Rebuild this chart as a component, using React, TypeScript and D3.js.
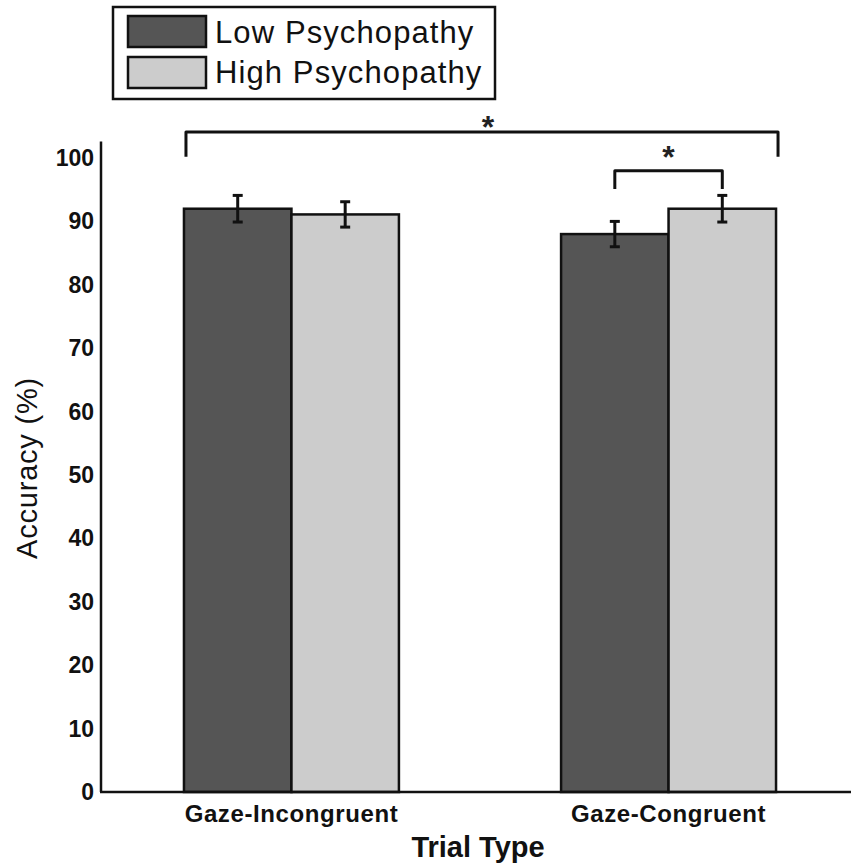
import { useMemo } from "react";
import * as d3 from "d3";

const CATEGORIES = ["Gaze-Incongruent", "Gaze-Congruent"];
const SERIES = ["Low Psychopathy", "High Psychopathy"];
const LOW_VALUES = [92.0, 88.0];
const HIGH_VALUES = [91.1, 92.0];
const LOW_ERRORS = [2.1, 2.0];
const HIGH_ERRORS = [2.0, 2.1];
const Y_TICKS = [0, 10, 20, 30, 40, 50, 60, 70, 80, 90, 100];

const COLORS = ["#555555", "#cccccc"];
const W = 851;
const H = 867;
const FONT = "'Liberation Sans', Arial, sans-serif";

export default function App() {
  const y = useMemo(
    () => d3.scaleLinear().domain([0, 100]).range([792, 158]),
    [],
  );
  const x = useMemo(
    () =>
      d3
        .scaleBand()
        .domain(CATEGORIES)
        .range([101, 859])
        .paddingInner(0.43)
        .paddingOuter(0.22),
    [],
  );
  const xs = useMemo(
    () => d3.scaleBand().domain(SERIES).range([0, x.bandwidth()]),
    [x],
  );

  const bars = CATEGORIES.flatMap((c, i) => [
    { cat: c, ser: SERIES[0], v: LOW_VALUES[i], e: LOW_ERRORS[i], fill: COLORS[0] },
    { cat: c, ser: SERIES[1], v: HIGH_VALUES[i], e: HIGH_ERRORS[i], fill: COLORS[1] },
  ]);

  const cx = (c: string, s: string) => x(c)! + xs(s)! + xs.bandwidth() / 2;

  // significance brackets
  const bigL = x(CATEGORIES[0])! + 2;
  const bigR = x(CATEGORIES[1])! + x.bandwidth() + 2;
  const smallL = cx(CATEGORIES[1], SERIES[0]);
  const smallR = cx(CATEGORIES[1], SERIES[1]);

  return (
    <svg
      width={W}
      height={H}
      style={{ position: "absolute", left: 0, top: 0, background: "#fff" }}
      fontFamily={FONT}
    >
      {/* legend */}
      <g>
        <rect x={113} y={7} width={382} height={92} fill="#fff" stroke="#111" strokeWidth={2.5} />
        {SERIES.map((s, i) => (
          <g key={s}>
            <rect
              x={128}
              y={16 + i * 41}
              width={78}
              height={31}
              fill={COLORS[i]}
              stroke="#111"
              strokeWidth={2.5}
            />
            <text x={215} y={43 + i * 40} fontSize={31} letterSpacing={1.1} fill="#111">
              {s}
            </text>
          </g>
        ))}
      </g>

      {/* bars */}
      {bars.map((b) => (
        <rect
          key={b.cat + b.ser}
          x={x(b.cat)! + xs(b.ser)!}
          y={y(b.v)}
          width={xs.bandwidth()}
          height={y(0) - y(b.v)}
          fill={b.fill}
          stroke="#111"
          strokeWidth={2.5}
        />
      ))}

      {/* error bars */}
      {bars.map((b) => {
        const c = cx(b.cat, b.ser);
        return (
          <g key={"e" + b.cat + b.ser} stroke="#111" strokeWidth={3}>
            <line x1={c} x2={c} y1={y(b.v + b.e)} y2={y(b.v - b.e)} />
            <line x1={c - 5} x2={c + 5} y1={y(b.v + b.e)} y2={y(b.v + b.e)} />
            <line x1={c - 5} x2={c + 5} y1={y(b.v - b.e)} y2={y(b.v - b.e)} />
          </g>
        );
      })}

      {/* axes */}
      <line x1={101} x2={101} y1={y(102.6)} y2={y(0)} stroke="#111" strokeWidth={2.5} />
      <line x1={100} x2={W} y1={y(0)} y2={y(0)} stroke="#111" strokeWidth={2.5} />
      {Y_TICKS.map((t) => (
        <text
          key={t}
          x={94}
          y={y(t) + 8}
          textAnchor="end"
          fontSize={23}
          fontWeight="bold"
          fill="#111"
        >
          {t}
        </text>
      ))}
      {CATEGORIES.map((c) => (
        <text
          key={c}
          x={x(c)! + x.bandwidth() / 2}
          y={822}
          textAnchor="middle"
          fontSize={24}
          fontWeight="bold"
          letterSpacing={0.6}
          fill="#111"
        >
          {c}
        </text>
      ))}
      <text x={478} y={857} textAnchor="middle" fontSize={29} fontWeight="bold" fill="#111">
        Trial Type
      </text>
      <text
        transform={`translate(37,468) rotate(-90)`}
        textAnchor="middle"
        fontSize={29}
        letterSpacing={0.8}
        fill="#111"
      >
        Accuracy (%)
      </text>

      {/* significance */}
      <path
        d={`M${bigL},${y(100.2)} V${y(104.1)} H${bigR} V${y(100.2)}`}
        fill="none"
        stroke="#111"
        strokeWidth={3}
        strokeLinejoin="round"
      />
      <text
        x={(bigL + bigR) / 2 + 6}
        y={y(104.1) + 6}
        textAnchor="middle"
        fontSize={32}
        fontWeight="bold"
        fill="#222"
      >
        *
      </text>
      <path
        d={`M${smallL},${y(95.1)} V${y(98)} H${smallR} V${y(95.1)}`}
        fill="none"
        stroke="#111"
        strokeWidth={3}
        strokeLinejoin="round"
      />
      <text
        x={(smallL + smallR) / 2}
        y={y(98) - 3}
        textAnchor="middle"
        fontSize={32}
        fontWeight="bold"
        fill="#222"
      >
        *
      </text>
    </svg>
  );
}
